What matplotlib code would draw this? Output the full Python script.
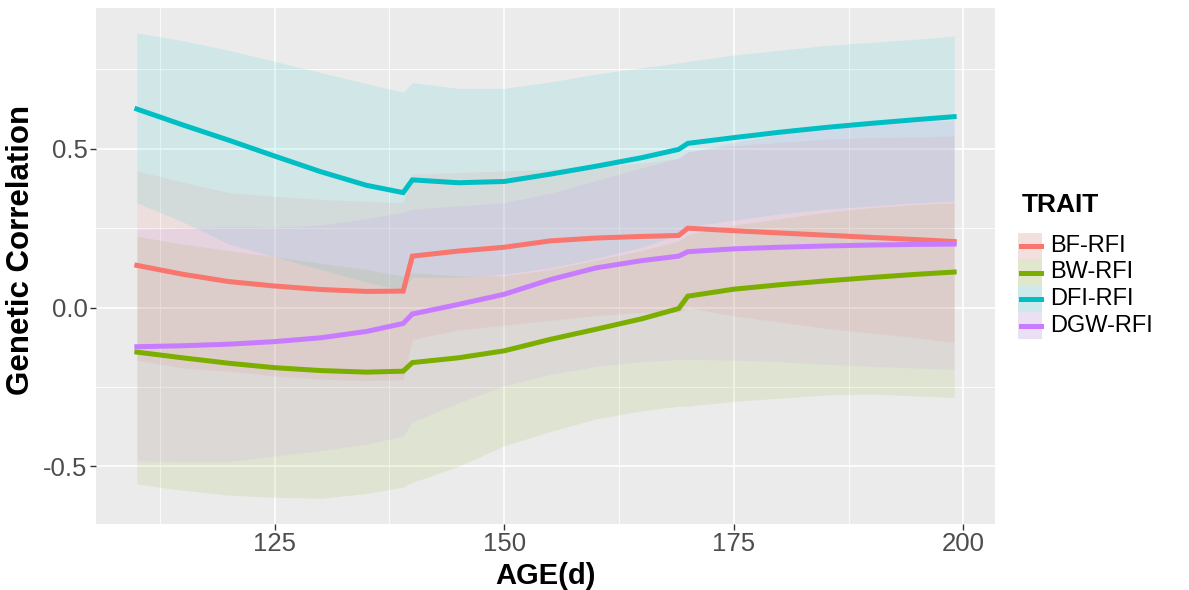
import matplotlib
matplotlib.use('Agg')
import matplotlib.pyplot as plt
from matplotlib.patches import Rectangle
from matplotlib.lines import Line2D

plt.rcParams['font.family'] = ['Liberation Sans', 'DejaVu Sans']

# Genetic correlation of each trait with RFI across age (d)
age = [110, 115, 120, 125, 130, 135, 139, 140, 145, 150, 155,
       160, 165, 169, 170, 175, 180, 185, 190, 195, 199]

traits = ['BF-RFI', 'BW-RFI', 'DFI-RFI', 'DGW-RFI']
colors = ['#F8766D', '#7CAE00', '#00BFC4', '#C77CFF']

bf_mean = [0.133, 0.105, 0.082, 0.068, 0.057, 0.051, 0.052, 0.162, 0.178, 0.190, 0.210,
           0.219, 0.224, 0.227, 0.250, 0.242, 0.235, 0.228, 0.221, 0.214, 0.208]
bf_upper = [0.430, 0.395, 0.362, 0.350, 0.340, 0.335, 0.330, 0.420, 0.425, 0.430, 0.435,
            0.445, 0.455, 0.470, 0.490, 0.510, 0.520, 0.530, 0.535, 0.538, 0.540]
bf_lower = [-0.165, -0.190, -0.200, -0.215, -0.225, -0.230, -0.226, -0.100, -0.070, -0.055, -0.040,
            -0.025, -0.015, -0.015, 0.000, -0.026, -0.045, -0.065, -0.080, -0.095, -0.110]

bw_mean = [-0.140, -0.158, -0.175, -0.189, -0.198, -0.203, -0.200, -0.173, -0.158, -0.136, -0.100,
           -0.068, -0.035, -0.003, 0.036, 0.058, 0.072, 0.084, 0.095, 0.105, 0.112]
bw_upper = [0.225, 0.200, 0.180, 0.160, 0.140, 0.120, 0.100, 0.110, 0.100, 0.100, 0.120,
            0.150, 0.180, 0.210, 0.230, 0.260, 0.280, 0.300, 0.315, 0.325, 0.330]
bw_lower = [-0.555, -0.575, -0.590, -0.597, -0.600, -0.585, -0.565, -0.550, -0.500, -0.435, -0.390,
            -0.350, -0.325, -0.310, -0.310, -0.295, -0.285, -0.275, -0.272, -0.278, -0.283]

dfi_mean = [0.625, 0.575, 0.527, 0.477, 0.428, 0.385, 0.362, 0.402, 0.393, 0.397, 0.420,
            0.445, 0.472, 0.498, 0.517, 0.535, 0.552, 0.567, 0.580, 0.592, 0.601]
dfi_upper = [0.865, 0.840, 0.810, 0.775, 0.740, 0.705, 0.678, 0.708, 0.690, 0.690, 0.710,
             0.735, 0.755, 0.770, 0.775, 0.795, 0.810, 0.825, 0.835, 0.845, 0.855]
dfi_lower = [0.330, 0.270, 0.200, 0.160, 0.120, 0.080, 0.055, 0.095, 0.095, 0.105, 0.125,
             0.155, 0.190, 0.230, 0.255, 0.275, 0.295, 0.310, 0.320, 0.330, 0.335]

dgw_mean = [-0.123, -0.120, -0.115, -0.107, -0.095, -0.075, -0.050, -0.020, 0.010, 0.042, 0.088,
            0.125, 0.148, 0.162, 0.176, 0.185, 0.190, 0.194, 0.197, 0.199, 0.200]
dgw_upper = [0.245, 0.250, 0.256, 0.253, 0.260, 0.280, 0.300, 0.310, 0.320, 0.330, 0.360,
             0.400, 0.440, 0.470, 0.490, 0.520, 0.545, 0.560, 0.575, 0.585, 0.590]
dgw_lower = [-0.482, -0.485, -0.485, -0.467, -0.450, -0.430, -0.404, -0.360, -0.300, -0.246, -0.210,
             -0.185, -0.170, -0.163, -0.163, -0.165, -0.170, -0.178, -0.185, -0.190, -0.194]

means = [bf_mean, bw_mean, dfi_mean, dgw_mean]
uppers = [bf_upper, bw_upper, dfi_upper, dgw_upper]
lowers = [bf_lower, bw_lower, dfi_lower, dgw_lower]

W, H = 1189, 590
fig = plt.figure(figsize=(W / 100, H / 100), dpi=100)
ax = fig.add_axes([96 / W, 1 - 524 / H, (995 - 96) / W, (524 - 8) / H])
ax.set_facecolor('#EBEBEB')
for s in ax.spines.values():
    s.set_visible(False)

# ribbons first, then lines (ggplot order)
for lo, hi, c in zip(lowers, uppers, colors):
    ax.fill_between(age, lo, hi, color=c, alpha=0.11, linewidth=0, zorder=2)
for m, c in zip(means, colors):
    ax.plot(age, m, color=c, lw=3.6, solid_joinstyle='miter', zorder=3)

ax.set_xlim(105.55, 203.45)
ax.set_ylim(-0.681, 0.943)
ax.set_xticks([125, 150, 175, 200])
ax.set_xticks([112.5, 137.5, 162.5, 187.5], minor=True)
ax.set_yticks([-0.5, 0.0, 0.5])
ax.set_yticklabels(['-0.5', '0.0', '0.5'])
ax.set_yticks([-0.25, 0.25, 0.75], minor=True)
ax.grid(which='major', color='white', lw=1.2, zorder=1)
ax.grid(which='minor', color='white', lw=0.6, zorder=1)
ax.set_axisbelow(True)
ax.tick_params(which='major', length=4, width=1, color='#333333',
               labelsize=18.5, labelcolor='#4D4D4D', pad=2)
ax.tick_params(which='minor', length=0)

fig.text(21 / W, 1 - 250 / H, 'Genetic Correlation', rotation=90, fontsize=22.5,
         fontweight='bold', ha='center', va='center')
fig.text(546 / W, 1 - 576 / H, 'AGE(d)', fontsize=21, fontweight='bold',
         ha='center', va='center')

# legend drawn by hand to match ggplot key layout
fig.text(1022 / W, 1 - 205 / H, 'TRAIT', fontsize=19, fontweight='bold',
         ha='left', va='center')
row_y = [246.0, 272.5, 299.0, 325.5]
key_h = 26.5
for lab, c, yy in zip(traits, colors, row_y):
    x0, y0 = 1018 / W, 1 - (yy + key_h / 2) / H
    fig.patches.append(Rectangle((x0, y0), 24 / W, key_h / H, transform=fig.transFigure,
                                 facecolor='#F2F2F2', edgecolor='none'))
    fig.patches.append(Rectangle((x0, y0), 24 / W, key_h / H, transform=fig.transFigure,
                                 facecolor=c, alpha=0.15, edgecolor='none'))
    fig.lines.append(Line2D([1021 / W, 1041 / W], [1 - yy / H, 1 - yy / H],
                            transform=fig.transFigure, color=c, lw=3.6))
    fig.text(1050 / W, 1 - yy / H, lab, fontsize=17, ha='left', va='center')

fig.savefig('out.png', dpi=100, facecolor='white')
